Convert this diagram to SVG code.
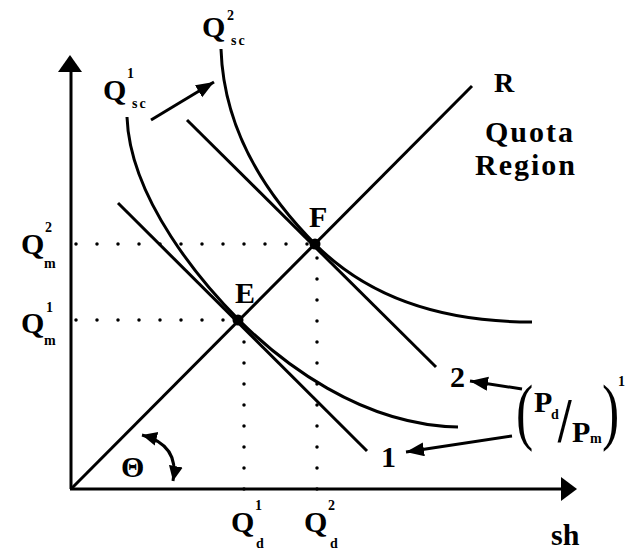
<svg xmlns="http://www.w3.org/2000/svg" width="633" height="550" viewBox="0 0 633 550">
<style>
.ln{fill:none;stroke:#000;stroke-width:3}
.dot{fill:none;stroke:#000;stroke-width:3.5;stroke-linecap:round;stroke-dasharray:0 21}
text{font-family:"Liberation Serif","Times New Roman",serif;font-weight:bold;fill:#000}
.big{font-size:30px}
.sm{font-size:14px}
</style>
<defs>
<marker id="ah" markerUnits="userSpaceOnUse" markerWidth="20" markerHeight="16" refX="18" refY="7" orient="auto">
<path d="M0,0 L18,7 L0,14 z" fill="#000"/>
</marker>
<marker id="ah2" markerUnits="userSpaceOnUse" markerWidth="18" markerHeight="16" refX="15" refY="7" orient="auto-start-reverse">
<path d="M0,0 L15,7 L0,14 z" fill="#000"/>
</marker>
</defs>
<rect width="633" height="550" fill="#fff"/>
<g id="connectors">
<g id="axes">
<line class="ln" x1="71" y1="489" x2="71" y2="68"/>
<polygon points="70,55 58,72 82,72" fill="#000"/>
<line class="ln" x1="70" y1="489" x2="563" y2="489"/>
<polygon points="577,489 561,477 561,501" fill="#000"/>
</g>
<line id="ray-R" class="ln" stroke-width="2.6" x1="71" y1="489" x2="472" y2="86"/>
<line id="line-1" class="ln" x1="118" y1="203" x2="367" y2="451"/>
<line id="line-2" class="ln" x1="187" y1="120" x2="436" y2="367"/>
<path id="curve-Qsc1" class="ln" d="M127,117 C130,200 204,285 239,320 C280,361 360,425 458,427"/>
<path id="curve-Qsc2" class="ln" d="M221,49 C224,140 276,205 316,245 C356,285 420,322 532,322"/>
<g id="dotted">
<line class="dot" x1="76" y1="244" x2="310" y2="244"/>
<line class="dot" x1="76" y1="320" x2="232" y2="320"/>
<line class="dot" x1="244" y1="489" x2="244" y2="326"/>
<line class="dot" x1="317" y1="489" x2="317" y2="250"/>
</g>
<line class="ln" x1="151" y1="120" x2="214" y2="82" marker-end="url(#ah)"/>
<line class="ln" x1="522" y1="389" x2="470" y2="381" marker-end="url(#ah)"/>
<line class="ln" x1="512" y1="436" x2="406" y2="452" marker-end="url(#ah)"/>
<path class="ln" stroke-width="2.6" d="M142,435 Q180,445 173,481" marker-start="url(#ah2)" marker-end="url(#ah2)"/>
</g>
<g id="node-E">
<circle cx="238" cy="320" r="5.5" fill="#000"/>
<text class="big" x="235" y="303">E</text>
</g>
<g id="node-F">
<circle cx="315" cy="244" r="5.5" fill="#000"/>
<text class="big" x="309" y="227">F</text>
</g>
<g id="label-R"><text x="494" y="92" font-size="28">R</text></g>
<g id="label-quota">
<text class="big" x="485" y="142" letter-spacing="2">Quota</text>
<text class="big" x="475" y="175" letter-spacing="2">Region</text>
</g>
<g id="label-Qsc2">
<text class="big" x="202" y="37">Q</text>
<text class="sm" x="227" y="20">2</text>
<text class="sm" x="231" y="45" letter-spacing="2">sc</text>
</g>
<g id="label-Qsc1">
<text class="big" x="103" y="100">Q</text>
<text class="sm" x="127" y="78">1</text>
<text class="sm" x="132" y="108" letter-spacing="2">sc</text>
</g>
<g id="label-Qm2">
<text class="big" x="21" y="254">Q</text>
<text class="sm" x="45" y="232">2</text>
<text class="sm" x="44" y="268">m</text>
</g>
<g id="label-Qm1">
<text class="big" x="21" y="333">Q</text>
<text class="sm" x="46" y="312">1</text>
<text class="sm" x="44" y="345">m</text>
</g>
<g id="label-Qd1">
<text class="big" x="231" y="532">Q</text>
<text class="sm" x="255" y="510">1</text>
<text class="sm" x="256" y="548">d</text>
</g>
<g id="label-Qd2">
<text class="big" x="304" y="532">Q</text>
<text class="sm" x="328" y="510">2</text>
<text class="sm" x="330" y="548">d</text>
</g>
<g id="label-sh"><text class="big" x="551" y="545">sh</text></g>
<g id="label-theta"><text class="big" x="121" y="477">Θ</text></g>
<g id="label-1"><text class="big" x="381" y="467">1</text></g>
<g id="label-2"><text class="big" x="450" y="387">2</text></g>
<g id="label-price-ratio">
<text transform="translate(516,436) scale(0.7,1)" font-size="74" style="font-weight:normal">(</text>
<text class="big" x="534" y="412">P</text>
<text class="sm" x="551" y="419">d</text>
<text transform="translate(558,442) scale(0.75,1)" font-size="64">/</text>
<text class="big" x="572" y="442">P</text>
<text class="sm" x="590" y="443">m</text>
<text transform="translate(602,436) scale(0.7,1)" font-size="74" style="font-weight:normal">)</text>
<text class="sm" x="618" y="386">1</text>
</g>
</svg>
